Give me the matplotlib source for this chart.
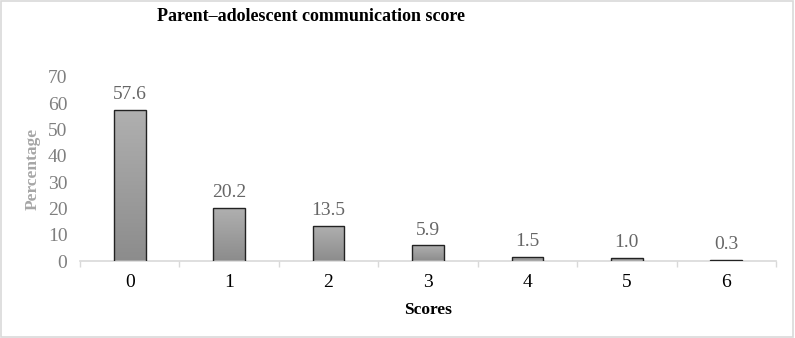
import numpy as np
import matplotlib
matplotlib.use('Agg')
import matplotlib.pyplot as plt
from matplotlib.patches import Rectangle

plt.rcParams['font.family'] = ['Liberation Serif', 'DejaVu Serif']

scores = ['0', '1', '2', '3', '4', '5', '6']
percentages = [57.6, 20.2, 13.5, 5.9, 1.5, 1.0, 0.3]
yticks = [0, 10, 20, 30, 40, 50, 60, 70]

fig = plt.figure(figsize=(7.95, 3.38), dpi=100)
ax = fig.add_axes([0.1006, 0.2278, 0.8755, 0.5444])

x = np.arange(len(scores))
bars = ax.bar(x, percentages, width=0.32, color='none', edgecolor='#222222', linewidth=1.0, zorder=3)

# gradient fill: lighter at top, darker at bottom
grad = np.linspace(0, 1, 256).reshape(-1, 1)
cmap = matplotlib.colors.LinearSegmentedColormap.from_list('g', ['#8c8c8c', '#b0b0b0'])
for b in bars:
    x0, y0 = b.get_x(), b.get_y()
    w, h = b.get_width(), b.get_height()
    im = ax.imshow(grad, cmap=cmap, origin='lower', aspect='auto',
                   extent=[x0, x0 + w, y0, y0 + h], zorder=2)
    im.set_clip_path(b)

for xi, v in zip(x, percentages):
    ax.annotate(f'{v:.1f}', (xi, v), xytext=(0, 5), textcoords='offset points',
                ha='center', va='bottom', fontsize=14, color='#666666')

ax.set_xlim(-0.5, len(scores) - 0.5)
ax.set_ylim(0, 70)
ax.set_yticks(yticks)
ax.set_xticks(x)
ax.set_xticklabels(scores)
ax.set_xticks(np.arange(-0.5, len(scores)), minor=True)

ax.tick_params(axis='y', length=0, labelsize=14, labelcolor='#7f7f7f', pad=9)
ax.tick_params(axis='x', which='major', length=0, labelsize=14, labelcolor='#000000', pad=9)
ax.tick_params(axis='x', which='minor', length=4, color='#d9d9d9', width=1)

for s in ['top', 'right', 'left']:
    ax.spines[s].set_visible(False)
ax.spines['bottom'].set_color('#d9d9d9')
ax.spines['bottom'].set_linewidth(1.2)

ax.set_xlabel('Scores', fontsize=12.5, fontweight='bold', color='#000000', labelpad=8)
ax.set_ylabel('Percentage', fontsize=12.5, fontweight='bold', color='#a6a6a6', labelpad=5)

fig.text(0.391, 0.952, 'Parent\u2013adolescent communication score', ha='center', va='center',
         fontsize=13, fontweight='bold', color='#000000')

fig.patches.append(Rectangle((0.001, 0.002), 0.997, 0.995, transform=fig.transFigure,
                             fill=False, edgecolor='#d9d9d9', linewidth=1.2))

plt.savefig('out.png', dpi=100)
